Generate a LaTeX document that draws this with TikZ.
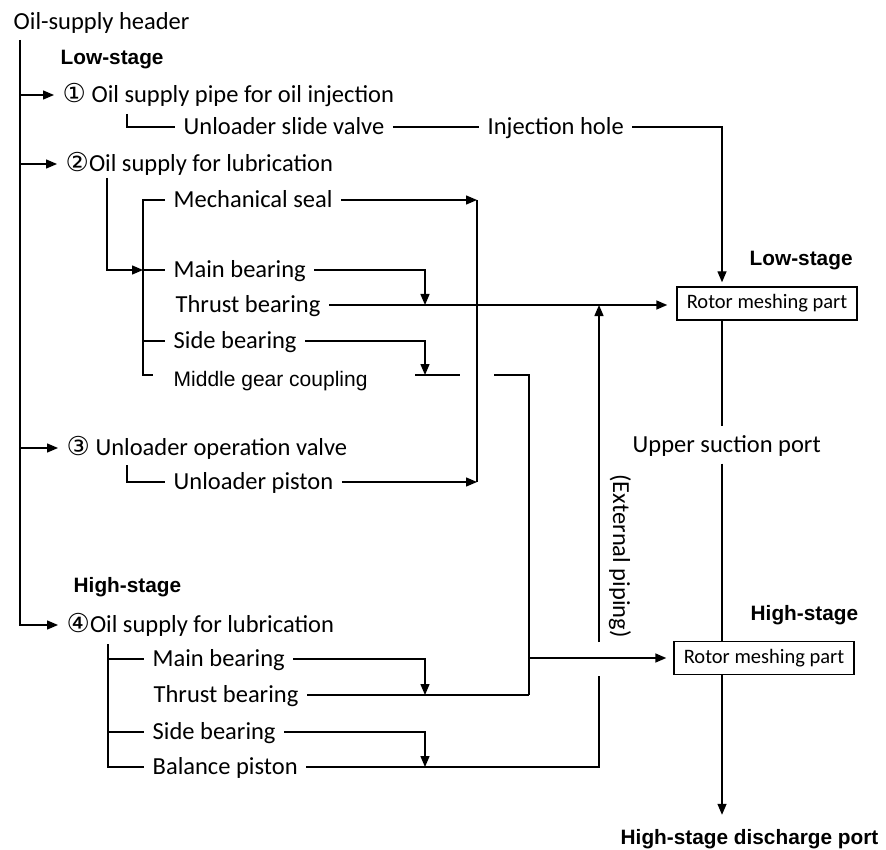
\documentclass[tikz,border=0pt]{standalone}
\usepackage{fontspec}
\setmainfont{Carlito}
\newfontfamily\arialfont{Liberation Sans}
\newfontfamily\symfont{DejaVu Sans}
\usepackage{tikz}
\usetikzlibrary{arrows.meta, calc, positioning}

\newcommand\cnum[1]{{\symfont\fontsize{26}{26}\selectfont#1}}

\begin{document}
\begin{tikzpicture}[
  x=1pt, y=-1pt, line width=1.4pt,
  txt/.style={anchor=west, inner xsep=8pt, inner ysep=0pt, text height=15.8pt, text depth=0pt, font=\fontsize{24.5}{28}\selectfont},
  stage/.style={anchor=west, inner sep=0pt, text height=15pt, text depth=0pt, font=\arialfont\bfseries\fontsize{20.8}{24}\selectfont},
  box/.style={draw, minimum width=180pt, minimum height=33pt, inner sep=0pt, font=\fontsize{20.5}{24}\selectfont},
  arrow/.style={-{Triangle[length=11pt, width=9pt]}},
]
\useasboundingbox (0,0) rectangle (886,850);

% Header and stage labels
\node[txt] (hdr) at (5,22) {Oil-supply header};
\node[stage] (lowL) at (60,57) {Low-stage};
\node[stage] (highL) at (73,585) {High-stage};
\node[stage] (lowR) at (749,258) {Low-stage};
\node[stage] (highR) at (750,613) {High-stage};
\node[stage] (dis) at (620,837) {High-stage discharge port};

% Low-stage supply
\node[txt] (n1) at (54,95) {\cnum{①} Oil supply pipe for oil injection};
\node[txt] (usv) at (175,127) {Unloader slide valve};
\node[txt] (inj) at (479,127) {Injection hole};
\node[txt] (n2) at (57,164) {\cnum{②}Oil supply for lubrication};
\node[txt] (ms) at (165,200) {Mechanical seal};
\node[txt] (mb1) at (165,270) {Main bearing};
\node[txt] (tb1) at (167,305) {Thrust bearing};
\node[txt] (sb1) at (165,341) {Side bearing};
\node[txt, font=\arialfont\fontsize{21}{24}\selectfont] (mgc) at (165,379) {Middle gear coupling};
\node[txt] (n3) at (58,448) {\cnum{③} Unloader operation valve};
\node[txt] (up) at (165,482) {Unloader piston};

% High-stage supply
\node[txt] (n4) at (58,625) {\cnum{④}Oil supply for lubrication};
\node[txt] (mb2) at (144,659) {Main bearing};
\node[txt] (tb2) at (145,695) {Thrust bearing};
\node[txt] (sb2) at (144,732) {Side bearing};
\node[txt] (bp) at (144,767) {Balance piston};

% Rotors
\node[box] (lsbox) at (767,303.5) {Rotor meshing part};
\node[box] (hsbox) at (764,658) {Rotor meshing part};
\node[txt, inner ysep=10pt] (usp) at (624,445) {Upper suction port};
\node[txt, anchor=center, rotate=-90] (ext) at (621,556) {(External piping)};

% Pipe coordinates
\coordinate (hv) at (20,40);
\coordinate (tr) at (722,0);
\coordinate (dA) at (425,0);
\coordinate (vr) at (477,0);
\coordinate (xc) at (529,0);
\coordinate (ep) at (599,0);
\coordinate (brA) at (143,0);
\coordinate (b2) at (107,178);
\coordinate (usvL) at (127,114);
\coordinate (upL) at (127,465);
\coordinate (brB) at (108,644);
\coordinate (mgA) at (415,375);
\coordinate (mgB) at (460,375);
\coordinate (mgC) at (494,375);
\coordinate (epTop) at (599,642);
\coordinate (epBot) at (599,676);

% Header branches
\draw[arrow] (hv) |- (n4.west);
\foreach \n in {n1,n2,n3}
  \draw[arrow] (hv |- \n.west) -- (\n.west);

% Oil injection
\draw (usvL) |- (usv.west);
\draw (usv.east) -- (inj.west);
\draw[arrow, shorten >=4pt] (inj.east) -| (lsbox.north -| tr);

% Low-stage lubrication
\draw[arrow] (b2) |- (brA |- mb1.west);
\draw (ms.west) -| (brA |- mgA) -- ++(10,0);
\draw (brA |- mb1.west) -- (mb1.west);
\draw (brA |- sb1.west) -- (sb1.west);
\draw[arrow] (ms.east) -- (ms.east -| vr);
\draw (ms.east -| vr) -- (up.east -| vr);
\draw[arrow] (mb1.east) -| (dA |- tb1.east);
\draw[arrow, shorten >=9pt] (tb1.east) -- (tb1.east -| lsbox.west);
\draw[arrow] (sb1.east) -| (dA |- mgA);
\draw (mgA) -- (mgB);
\draw (mgC) -| (xc |- tb2.east);

% Unloader
\draw (upL) |- (up.west);
\draw[arrow] (up.east) -- (up.east -| vr);

% High-stage lubrication
\draw (brB) |- (bp.west);
\draw (brB |- mb2.west) -- (mb2.west);
\draw (brB |- sb2.west) -- (sb2.west);
\draw[arrow] (mb2.east) -| (dA |- tb2.east);
\draw (tb2.east) -- (xc |- tb2.east);
\draw[arrow] (sb2.east) -| (dA |- bp.east);
\draw[arrow, shorten >=7pt] (xc |- hsbox.west) -- (hsbox.west);

% External piping
\draw (bp.east) -| (epBot);
\draw[arrow] (epTop) -- (ep |- tb1.east);

% Rotor trunk
\draw (lsbox.south -| tr) -- (usp.north -| tr);
\draw (usp.south -| tr) -- (hsbox.north -| tr);
\draw[arrow, shorten >=14pt] (hsbox.south -| tr) -- (dis.north -| tr);
\end{tikzpicture}
\end{document}
